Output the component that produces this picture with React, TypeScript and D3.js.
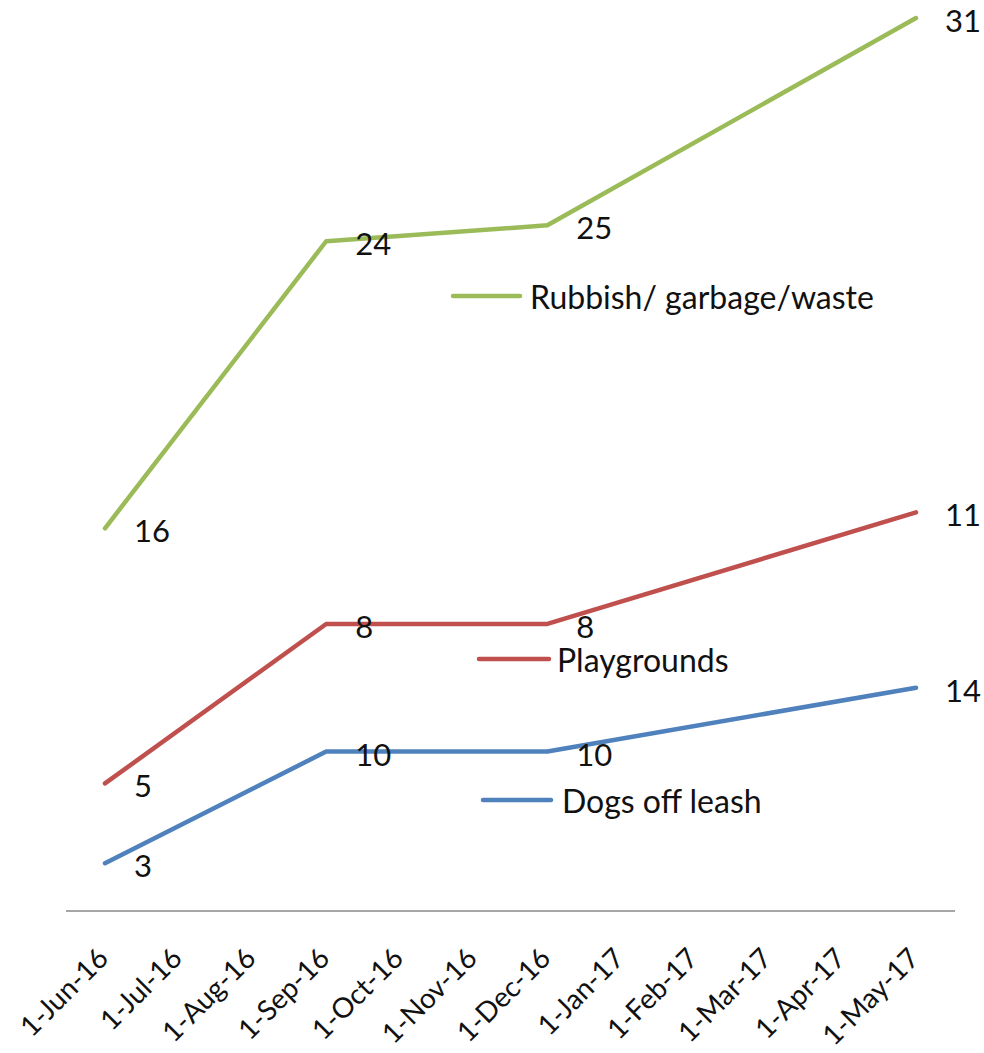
import React from "react";
import * as d3 from "d3";

const months = [
  "1-Jun-16", "1-Jul-16", "1-Aug-16", "1-Sep-16", "1-Oct-16", "1-Nov-16",
  "1-Dec-16", "1-Jan-17", "1-Feb-17", "1-Mar-17", "1-Apr-17", "1-May-17",
];
const pointMonths = ["1-Jun-16", "1-Sep-16", "1-Dec-16", "1-May-17"];
const dogsOffLeash = [3, 10, 10, 14];
const playgrounds = [5, 8, 8, 11];
const rubbish = [16, 24, 25, 31];

const seriesNames = ["Dogs off leash", "Playgrounds", "Rubbish/ garbage/waste"];
const seriesColors = ["#4F81BD", "#C0504D", "#9BBB59"];

const W = 984;
const H = 1053;
const FONT = "Lato, 'Open Sans', sans-serif";
const FS_TICK = 28;
const FS_LABEL = 31;
const FS_LEGEND = 32;

export default function App() {
  const x = d3.scalePoint<string>().domain(months).range([105, 916]);
  const y = d3.scaleLinear().domain([0, 56]).range([911, 18]);

  const rows = pointMonths.map((m, i) => ({
    month: m,
    d: dogsOffLeash[i],
    p: playgrounds[i],
    r: rubbish[i],
  }));
  const stacked = d3.stack<any>().keys(["d", "p", "r"])(rows);
  const rawVals = [dogsOffLeash, playgrounds, rubbish];

  const line = d3
    .line<any>()
    .x((s) => x(s.data.month) as number)
    .y((s) => y(s[1]));

  const legendPos = [
    { x1: 483, x2: 551, y: 800, tx: 562 },
    { x1: 479, x2: 549, y: 659, tx: 557 },
    { x1: 453, x2: 520, y: 296, tx: 530 },
  ];

  return (
    <svg
      width={W}
      height={H}
      style={{ position: "absolute", left: 0, top: 0, background: "#fff" }}
      fontFamily={FONT}
    >
      <rect x={0} y={0} width={W} height={H} fill="#fff" />
      {/* axis */}
      <line x1={66} x2={955} y1={911} y2={911} stroke="#898989" strokeWidth={1.5} />
      {months.map((m) => (
        <text
          key={m}
          transform={`translate(${(x(m) as number) + 5},${960}) rotate(-45)`}
          textAnchor="end"
          fontSize={FS_TICK}
          fill="#111"
        >
          {m}
        </text>
      ))}
      {/* lines */}
      {stacked.map((s, i) => (
        <path
          key={i}
          d={line(s as any) as string}
          fill="none"
          stroke={seriesColors[i]}
          strokeWidth={4.5}
          strokeLinecap="round"
          strokeLinejoin="round"
        />
      ))}
      {/* data labels */}
      {stacked.map((s, i) =>
        s.map((pt: any, j: number) => (
          <text
            key={`${i}-${j}`}
            x={(x(pt.data.month) as number) + 29}
            y={y(pt[1]) + 2}
            dominantBaseline="central"
            fontSize={FS_LABEL}
            fill="#111"
          >
            {rawVals[i][j]}
          </text>
        ))
      )}
      {/* inline legend */}
      {seriesNames.map((n, i) => (
        <g key={n}>
          <line
            x1={legendPos[i].x1}
            x2={legendPos[i].x2}
            y1={legendPos[i].y}
            y2={legendPos[i].y}
            stroke={seriesColors[i]}
            strokeWidth={4.5}
            strokeLinecap="round"
          />
          <text
            x={legendPos[i].tx}
            y={legendPos[i].y}
            dominantBaseline="central"
            fontSize={FS_LEGEND}
            fill="#111"
          >
            {n}
          </text>
        </g>
      ))}
    </svg>
  );
}
